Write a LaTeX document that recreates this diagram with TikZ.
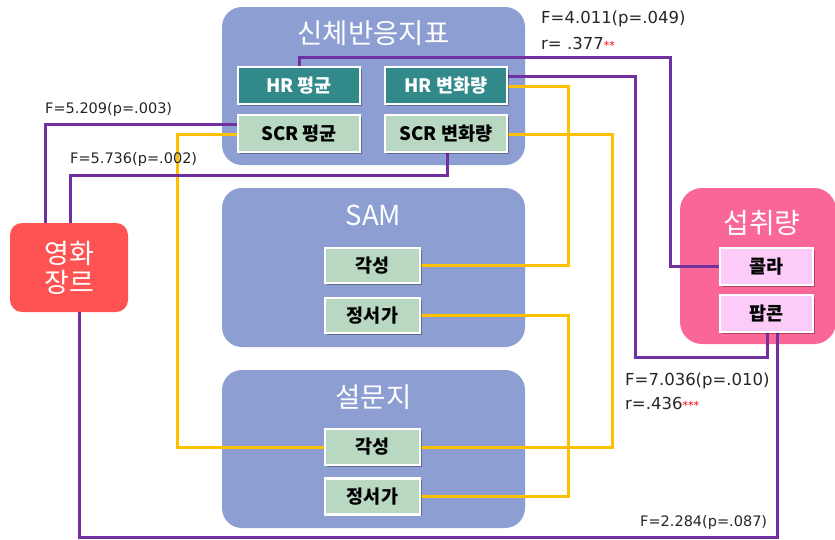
\documentclass[tikz,border=0pt]{standalone}
\usepackage{fontspec}
\setmainfont{Noto Sans CJK KR}
\newfontfamily\labfont{DejaVu Sans}
\usetikzlibrary{shadows}
\pgfdeclarelayer{bglayer}
\pgfdeclarelayer{linelayer}
\pgfsetlayers{bglayer,linelayer,main}
\definecolor{grp}{HTML}{8C9ED2}
\definecolor{tealbox}{HTML}{31898A}
\definecolor{greenbox}{HTML}{B9D8C2}
\definecolor{genrered}{HTML}{FF5353}
\definecolor{intakepink}{HTML}{FA6696}
\definecolor{lightpink}{HTML}{FCCBF8}
\definecolor{pline}{HTML}{7030A0}
\definecolor{yline}{HTML}{FFC000}
\tikzset{
  groupbox/.style={fill=grp, draw=none, rounded corners=20pt},
  grouptitle/.style={text=white, font=\fontsize{27.5}{27.5}\selectfont, inner sep=0pt},
  innerbox/.style={draw=white, line width=2.2pt, inner sep=0pt,
    font=\bfseries\fontsize{18.5}{18.5}\selectfont,
    drop shadow={shadow xshift=1.5pt, shadow yshift=-1.5pt, opacity=0.3, fill=black}},
  tealstyle/.style={innerbox, fill=tealbox, text=white, minimum width=122pt, minimum height=37pt},
  greenstyle/.style={innerbox, fill=greenbox, text=black},
  pinkstyle/.style={innerbox, fill=lightpink, text=black, minimum width=93pt, minimum height=37pt},
  purpleline/.style={draw=pline, line width=3pt},
  yellowline/.style={draw=yline, line width=3pt},
  statlabel/.style={anchor=west, inner sep=0pt, text=black!85, font=\labfont\fontsize{14.5}{14.5}\selectfont},
  biglabel/.style={statlabel, font=\labfont\fontsize{16.5}{16.5}\selectfont},
}
\begin{document}
\begin{tikzpicture}[x=1pt,y=-1pt]
\useasboundingbox (0,0) rectangle (835,539);

\begin{pgfonlayer}{bglayer}
\fill[white] (0,0) rectangle (835,539);
% group boxes
\node[groupbox, minimum width=303pt, minimum height=158pt] (g1) at (373.5,86) {};
\node[groupbox, minimum width=303pt, minimum height=159pt] (g2) at (373.5,267.5) {};
\node[groupbox, minimum width=303pt, minimum height=158pt] (g3) at (373.5,449) {};
\node[grouptitle] (t1) at (373.5,33) {신체반응지표};
\node[grouptitle] (t2) at (373.5,215) {SAM};
\node[grouptitle] (t3) at (373.5,397) {설문지};
\node[fill=genrered, rounded corners=12pt, minimum width=118pt, minimum height=89pt,
  text=white, align=center, font=\fontsize{27}{29}\selectfont] (genre) at (69,267.5) {영화\\장르};
\node[fill=intakepink, rounded corners=22pt, minimum width=156pt, minimum height=156pt] (intake) at (758,266) {};
\node[text=white, inner sep=0pt, font=\fontsize{28}{28}\selectfont] (t4) at (762,223) {섭취량};
\end{pgfonlayer}

% inner boxes
\node[tealstyle] (hrm) at (299,85.5) {HR 평균};
\node[tealstyle] (hrc) at (446,85.5) {HR 변화량};
\node[greenstyle, minimum width=122pt, minimum height=37pt] (scrm) at (299,133.5) {SCR 평균};
\node[greenstyle, minimum width=122pt, minimum height=37pt] (scrc) at (446,133.5) {SCR 변화량};
\node[greenstyle, minimum width=95pt, minimum height=35pt] (sam1) at (372.5,265.5) {각성};
\node[greenstyle, minimum width=95pt, minimum height=35pt] (sam2) at (372.5,315.5) {정서가};
\node[greenstyle, minimum width=95pt, minimum height=36pt] (q1) at (372.5,447) {각성};
\node[greenstyle, minimum width=95pt, minimum height=36pt] (q2) at (372.5,496.5) {정서가};
\node[pinkstyle] (cola) at (766.5,266.5) {콜라};
\node[pinkstyle] (popcorn) at (766.5,313.5) {팝콘};

% connectors
\begin{pgfonlayer}{linelayer}
% yellow
\draw[yellowline] (hrc.east |- 0,86) -| (sam1.east -| 568,0) -- (sam1.east);
\draw[yellowline] (scrc.east |- 0,134) -| (q1.east -| 612,0) -- (q1.east);
\draw[yellowline] (sam2.east) -- (sam2.east -| 568,0) |- (q2.east);
\draw[yellowline] (scrm.west |- 0,134) -| (q1.west -| 177,0) -- (q1.west);
% purple
\draw[purpleline] (scrm.west |- 0,124) -| (genre.north -| 45,0);
\draw[purpleline] (genre.north -| 70,0) |- (447,175) -- (scrc.south -| 447,0);
\draw[purpleline] (hrm.north) |- (670,57) |- (cola.west);
\draw[purpleline] (hrc.east |- 0,76) -| (635,357) -| (popcorn.south -| 767,0);
\draw[purpleline] (genre.south -| 79,0) |- (777,537) -- (popcorn.south -| 777,0);
\end{pgfonlayer}

% statistics labels
\node[statlabel] (l1) at (45,110) {F=5.209(p=.003)};
\node[statlabel] (l2) at (70,160) {F=5.736(p=.002)};
\node[biglabel] (l3) at (541,19) {F=4.011(p=.049)};
\node[biglabel] (l4) at (541,43) {r=\ .377{\color{red}\fontsize{11}{11}\selectfont**}};
\node[biglabel] (l5) at (625,381) {F=7.036(p=.010)};
\node[biglabel] (l6) at (625,403) {r=.436{\color{red}\fontsize{11}{11}\selectfont***}};
\node[statlabel] (l7) at (640,522) {F=2.284(p=.087)};
\end{tikzpicture}
\end{document}
